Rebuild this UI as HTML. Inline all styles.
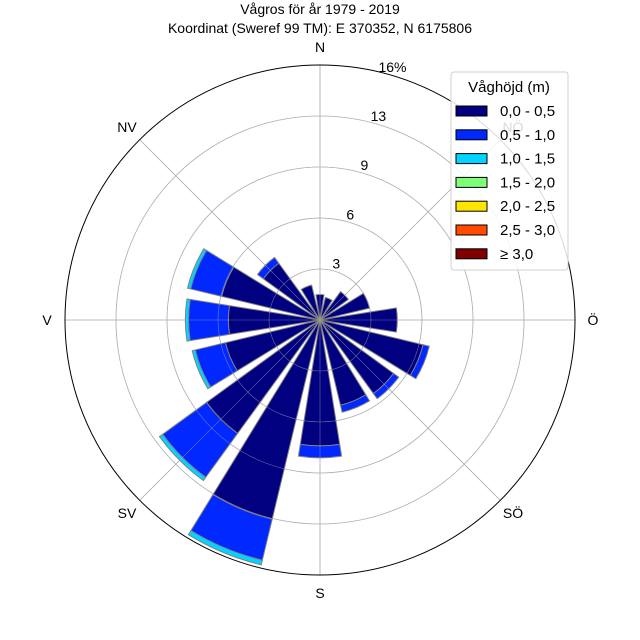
<!DOCTYPE html>
<html><head><meta charset="utf-8"><style>
body{margin:0;background:#fff}
svg{display:block;font-family:"Liberation Sans",sans-serif}
</style></head><body>
<svg id="c" width="640" height="640" viewBox="0 0 640 640">
<text x="320" y="14" text-anchor="middle" font-size="14">Vågros för år 1979 - 2019</text>
<text x="320" y="33" text-anchor="middle" font-size="14">Koordinat (Sweref 99 TM): E 370352, N 6175806</text>
<g id="grid"></g><g id="bars"></g><g id="labels"></g>
<g id="legend"></g>
</svg>
<script>
const directions=["N","NNO","NO","ONO","Ö","OSO","SO","SSO","S","SSV","SV","VSV","V","VNV","NV","NNV"];
const classes=["0,0 - 0,5","0,5 - 1,0","1,0 - 1,5","1,5 - 2,0","2,0 - 2,5","2,5 - 3,0","≥ 3,0"];
const colors=["#000080","#0028ff","#00d4ff","#7dff7a","#ffe600","#ff4a00","#800000"];
const c0=[1.6,1.45,2.2,3.2,4.85,6.65,5.7,5.5,7.9,12.85,8.8,6.1,5.75,6.35,4.4,2.25];
const c1=[0,0,0,0,0,0.4,0.4,0.45,0.75,2.65,3.4,1.95,2.5,2.0,0.45,0];
const c2=[0,0,0,0,0,0,0,0,0,0.3,0.25,0.2,0.2,0.2,0,0];
const series=[c0,c1,c2];
const ringVals=[3.2,6.4,9.6,12.8,16];
const ringLabels=["3","6","9","13","16%"];
const rmax=16;
const NS="http://www.w3.org/2000/svg";
const cx=320,cy=320,R=255;
function r(v){return v/rmax*R;}
function pt(rad,deg){const a=deg*Math.PI/180;return [cx+rad*Math.sin(a),cy-rad*Math.cos(a)];}
function mk(t,at,p){const e=document.createElementNS(NS,t);for(const k in at)e.setAttribute(k,at[k]);p.appendChild(e);return e;}
const grid=document.getElementById('grid');
for(let i=0;i<ringVals.length-1;i++){const e=mk('circle',{cx:cx,cy:cy,r:r(ringVals[i]),fill:'none',stroke:'#b0b0b0','stroke-width':0.8},grid);

}
for(let k=0;k<8;k++){const p=pt(R,k*45);const e=mk('line',{x1:cx,y1:cy,x2:p[0],y2:p[1],stroke:'#b0b0b0','stroke-width':0.8},grid);

}
const bars=document.getElementById('bars');
const half=9;
directions.forEach((d,i)=>{let base=0;const ang=i*22.5;
series.forEach((s,j)=>{const v=s[i];if(v<=0)return;const r0=r(base),r1=r(base+v);base+=v;
const a=pt(r0,ang-half),b=pt(r1,ang-half),c=pt(r1,ang+half),e2=pt(r0,ang+half);
const dpath=`M${a[0]},${a[1]}L${b[0]},${b[1]}A${r1},${r1} 0 0 1 ${c[0]},${c[1]}L${e2[0]},${e2[1]}`+(r0>0?`A${r0},${r0} 0 0 0 ${a[0]},${a[1]}Z`:'Z');
const e=mk('path',{d:dpath,fill:colors[j],stroke:'#808080','stroke-width':1},bars);

});});
// grid lines over bars (matplotlib draws them faint on top)
for(let i=0;i<ringVals.length-1;i++){mk('circle',{cx:cx,cy:cy,r:r(ringVals[i]),fill:'none',stroke:'#b0b0b0','stroke-width':0.6,opacity:0.6},bars);}
for(let k=0;k<8;k++){const p=pt(R,k*45);mk('line',{x1:cx,y1:cy,x2:p[0],y2:p[1],stroke:'#b0b0b0','stroke-width':0.6,opacity:0.6},bars);}
const lab=document.getElementById('labels');
const outer=mk('circle',{cx:cx,cy:cy,r:R,fill:'none',stroke:'#000','stroke-width':1},lab);


const compass=[["N",0],["NÖ",45],["Ö",90],["SÖ",135],["S",180],["SV",225],["V",270],["NV",315]];
compass.forEach(([t,a])=>{const p=pt(R+18+(a%90?10:0)*0,a);const e=mk('text',{x:p[0],y:p[1]+5,'text-anchor':'middle','font-size':14},lab);e.textContent=t;

});
ringVals.forEach((v,i)=>{const p=pt(r(v)+8,16);const e=mk('text',{x:p[0],y:p[1]+5,'text-anchor':'middle','font-size':14},lab);e.textContent=ringLabels[i];

});
const lg=document.getElementById('legend');
mk('rect',{x:451,y:72,width:117,height:198,rx:3,fill:'#fff','fill-opacity':0.85,stroke:'#d0d0d0'},lg);
const lt=mk('text',{x:509,y:92,'text-anchor':'middle','font-size':15},lg);lt.textContent="Våghöjd (m)";


classes.forEach((t,i)=>{const y=106+i*23.8;
const s=mk('rect',{x:456,y:y,width:31,height:10,fill:colors[i],stroke:'#000','stroke-width':1},lg);


const tx=mk('text',{x:500,y:y+10,'font-size':15},lg);tx.textContent=t;

});
</script>
</body></html>
